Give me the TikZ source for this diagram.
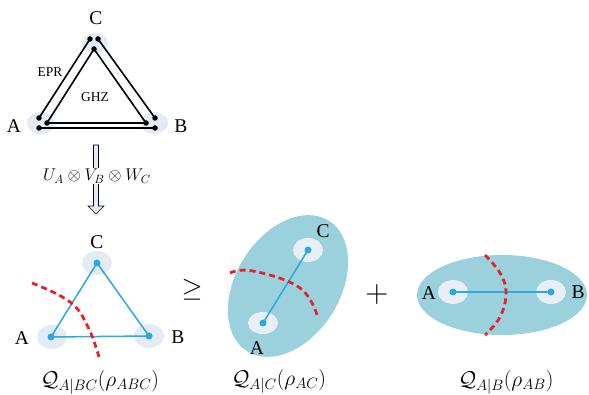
\RequirePackage{fix-cm}
\documentclass[tikz,border=0pt]{standalone}
\usepackage{amsmath,amssymb}
\usepackage{fontspec}
\newfontfamily\tms{Liberation Serif}
\begin{document}
\begin{tikzpicture}[x=1pt,y=-1pt,
  blk/.style={line width=1.6pt,black},
  bdot/.style={circle,fill=black,inner sep=0pt,minimum size=5.5pt},
  cdot/.style={circle,fill=cyanline,inner sep=0pt,minimum size=7pt},
  halo/.style={fill=halocol},
  cline/.style={line width=1.5pt,cyanline},
  cut/.style={line width=2.8pt,cutred,dash pattern=on 6pt off 4pt},
  lab/.style={font=\tms\fontsize{19.5}{21}\selectfont,inner sep=0pt},
  small/.style={font=\tms\fontsize{13.5}{15}\selectfont,inner sep=0pt},
  qlab/.style={font=\fontsize{21.5}{23}\selectfont,inner sep=0pt}
]
\definecolor{cyanline}{HTML}{29A9E1}
\definecolor{halocol}{HTML}{E3EBF6}
\definecolor{halo2}{HTML}{E8EEF6}
\definecolor{cutred}{HTML}{E8222B}
\definecolor{teal}{HTML}{9BD0DD}
\definecolor{arrfill}{HTML}{E4ECF6}
\useasboundingbox (0,0) rectangle (589,395);

% ---------- top triangle ----------
\fill[halo] (95,43) ellipse [x radius=13,y radius=10];
\fill[halo] (41,123) ellipse [x radius=14,y radius=11];
\fill[halo] (154,123) ellipse [x radius=14,y radius=11];
\coordinate (c1) at (90,39);
\coordinate (c2) at (98,39);
\coordinate (c3) at (94,49);
\coordinate (a1) at (39,118);
\coordinate (a2) at (47,123);
\coordinate (a3) at (39,128);
\coordinate (b1) at (155,118);
\coordinate (b2) at (146,123);
\coordinate (b3) at (155,128);
\draw[blk] (c1) -- (a1);
\draw[blk] (c2) -- (b1);
\draw[blk] (a3) -- (b3);
\draw[blk,line join=round] (c3) -- (a2) -- (b2) -- cycle;
\foreach \p in {c1,c2,c3,a1,a2,a3,b1,b2,b3} \node[bdot] at (\p) {};
\node[lab] (tC) at (96,18) {C};
\node[lab] (tA) at (14,126) {A};
\node[lab] (tB) at (181,126) {B};
\node[small] (epr) at (50,72) {EPR};
\node[small] (ghz) at (95,97) {GHZ};

% ---------- arrow ----------
\draw[line width=0.6pt,fill=arrfill] (93.5,145) -- (93.5,206) -- (88,206) -- (96,214) -- (104,206) -- (98.5,206) -- (98.5,145) -- cycle;
\node[fill=white,inner sep=1pt,font=\fontsize{17}{19}\selectfont] (uvw) at (97,176) {$U_A\otimes V_B\otimes W_C$};

% ---------- bottom-left triangle ----------
\fill[halo] (97,263) ellipse [x radius=15,y radius=12];
\fill[halo] (52,337) ellipse [x radius=15,y radius=12];
\fill[halo] (149,336) ellipse [x radius=15,y radius=12];
\node[cdot] (lC) at (97,263) {};
\node[cdot] (lA) at (51,337) {};
\node[cdot] (lB) at (149,336) {};
\draw[cline,line join=round] (lC.center) -- (lA.center) -- (lB.center) -- cycle;
\node[lab] (lCt) at (97,242) {C};
\node[lab] (lAt) at (22,338) {A};
\node[lab] (lBt) at (178,337) {B};
\draw[cut] plot[smooth,tension=0.7] coordinates {(32,283) (70,302) (88,327) (99,357)};
\node[qlab] (q1) at (100,382) {$\mathcal{Q}_{A|BC}(\rho_{ABC})$};

\node[font=\fontsize{27}{30}\selectfont,inner sep=0pt] (geq) at (192,290) {$\geq$};

% ---------- middle ellipse ----------
\fill[teal,rotate around={58:(288,286)}] (288,286) ellipse [x radius=77,y radius=52];
\fill[halo2] (263,323) ellipse [x radius=15,y radius=11];
\fill[halo2] (308,250) ellipse [x radius=15,y radius=12];
\node[cdot] (mA) at (263,323) {};
\node[cdot] (mC) at (308,250) {};
\draw[cline] (mA.center) -- (mC.center);
\node[lab] (mCt) at (323,231) {C};
\node[lab] (mAt) at (257,348) {A};
\draw[cut] plot[smooth,tension=0.7] coordinates {(230,273) (253,271) (300,288) (318,318)};
\node[qlab] (q2) at (279,381) {$\mathcal{Q}_{A|C}(\rho_{AC})$};

\node[font=\fontsize{32}{34}\selectfont,inner sep=0pt] (plus) at (377,295) {$+$};

% ---------- right ellipse ----------
\fill[teal] (502,295) ellipse [x radius=85,y radius=40];
\fill[halo2] (453,292) ellipse [x radius=15,y radius=12];
\fill[halo2] (551,292) ellipse [x radius=15,y radius=12];
\node[cdot] (rA) at (453,292) {};
\node[cdot] (rB) at (551,292) {};
\draw[cline] (rA.center) -- (rB.center);
\node[lab] (rAt) at (429,293) {A};
\node[lab] (rBt) at (578,292) {B};
\draw[cut] plot[smooth,tension=0.7] coordinates {(485,255) (500,273) (506,293) (500,317) (485,335)};
\node[qlab] (q3) at (506,382) {$\mathcal{Q}_{A|B}(\rho_{AB})$};
\end{tikzpicture}
\end{document}
